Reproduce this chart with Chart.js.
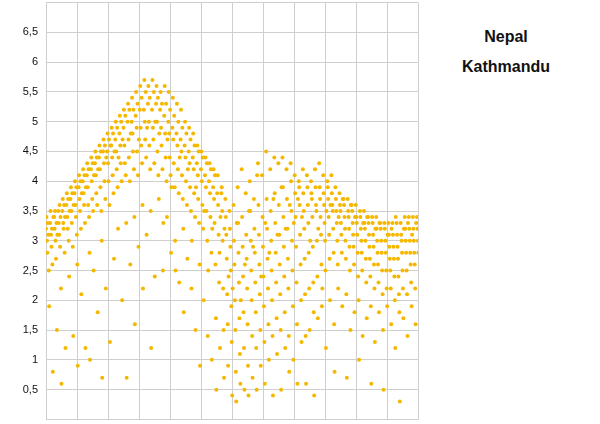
<!DOCTYPE html>
<html><head><meta charset="utf-8">
<script src="https://cdn.jsdelivr.net/npm/chart.js@4"></script>
<style>
body{margin:0;background:#fff;width:600px;height:424px;position:relative;overflow:hidden;font-family:"Liberation Sans",Arial,sans-serif}
#w{position:absolute;left:0;top:-12px;width:422px;height:446px}
.t{position:absolute;font-weight:bold;font-size:16px;color:#111;text-align:center;width:120px;left:446px}
</style></head><body>
<div id="w"><canvas id="c"></canvas></div>
<div class="t" style="top:28px">Nepal</div>
<div class="t" style="top:58px">Kathmandu</div>
<script>
const days=[0,4,8,12,16,20,24,28,32,36,40,44,48,52,56,60,64,68,72,76,80,84,88,92,96,100,104,108,112,116,120,124,128,132,136,140,144,148,152,156,160,164,168,172,176,180,184,188,192,196,200,204,208,212,216,220,224,228,232,236,240,244,248,252,256,260,264,268,272,276,280,284,288,292,296,300,304,308,312,316,320,324,328,332,336,340,344,348,352,356,360,364];
const values=[
[3.2,3.4,3.0,2.8,3.3,3.1,2.5,1.9],[3.3,3.5,3.1,2.9,3.2,2.6,0.8,3.4],[3.4,3.2,3.5,3.0,2.7,3.3,1.5,3.1],[3.5,3.3,3.1,3.6,2.9,3.4,2.2,0.6],
[3.5,3.7,3.3,3.2,3.6,2.8,3.4,1.2],[3.6,3.8,3.4,3.2,3.7,3.0,2.4,3.5],[3.7,3.9,3.5,3.3,3.8,2.9,1.4,3.6],[3.8,4.0,3.6,3.4,3.9,3.1,2.6,0.9],
[3.9,4.1,3.7,3.5,4.0,3.2,2.1,3.8],[4.0,4.2,3.8,3.6,4.1,3.3,1.2,3.9],[4.1,4.3,3.9,3.6,4.2,3.4,2.8,1.0],[4.2,4.4,4.0,3.7,4.3,3.5,2.5,4.1],
[4.3,4.5,4.1,3.8,4.4,3.6,1.8,4.2],[4.4,4.6,4.2,3.9,4.5,3.5,3.0,0.7],[4.5,4.7,4.3,4.0,4.6,3.7,2.2,4.4],[4.5,4.8,4.3,4.0,4.7,3.6,1.3,4.6],
[4.6,4.9,4.4,4.1,4.8,3.8,2.7,4.5],[4.7,5.0,4.5,4.2,4.9,3.9,3.2,4.4],[4.8,5.1,4.6,4.3,5.0,4.0,2.0,4.7],[4.9,5.2,4.6,4.3,5.1,4.1,3.3,0.7],
[5.0,5.3,4.7,4.4,5.2,4.0,2.6,4.8],[5.0,5.4,4.8,4.5,5.2,4.2,3.4,1.6],[5.1,5.5,4.9,4.5,5.3,4.1,2.9,4.7],[5.2,5.6,4.9,4.6,5.4,4.3,3.6,2.2],
[5.2,5.7,5.0,4.7,5.5,4.4,3.1,4.9],[5.3,5.6,5.0,4.6,5.4,4.2,3.5,1.2],[5.2,5.7,4.9,4.7,5.5,4.3,2.4,5.0],[5.3,5.6,5.0,4.5,5.4,4.1,3.7,4.8],
[5.2,5.5,4.9,4.6,5.3,4.2,2.5,3.3],[5.1,5.6,4.8,4.4,5.3,4.0,3.4,4.7],[5.0,5.5,4.8,4.4,5.2,4.1,2.8,3.9],[4.9,5.4,4.7,4.3,5.1,3.9,3.0,2.5],
[4.8,5.3,4.6,4.2,5.0,3.8,2.3,4.4],[4.7,5.2,4.5,4.1,4.9,3.7,3.2,1.8],[4.6,5.0,4.4,4.0,4.8,3.6,2.7,4.2],[4.5,4.9,4.3,3.9,4.7,3.5,2.2,3.0],
[4.4,4.8,4.2,3.8,4.6,3.4,1.5,3.9],[4.3,4.6,4.1,3.7,4.5,3.3,2.6,0.9],[4.2,4.5,4.0,3.6,4.4,3.2,2.0,3.5],[4.1,4.4,3.9,3.5,4.3,3.0,1.4,2.5],
[4.0,4.3,3.8,3.4,4.2,2.8,1.0,3.2],[3.9,4.2,3.7,3.3,4.1,2.6,1.7,0.5],[3.8,4.1,3.6,3.1,2.3,2.8,1.2,3.4],[3.8,3.9,3.5,3.0,2.2,1.5,0.7,3.2],
[3.7,3.4,3.1,2.7,2.1,1.6,0.9,2.4],[3.5,3.2,2.9,2.5,1.9,1.3,0.4,2.2],[3.6,3.0,2.6,2.0,1.5,0.8,0.3,3.3],[3.9,3.3,2.8,2.3,1.7,1.1,0.6,2.0],
[4.2,3.4,2.9,2.4,1.8,1.2,0.5,2.6],[3.8,3.1,2.7,2.2,1.6,0.9,0.4,3.5],[4.0,3.5,3.0,2.5,2.0,1.4,0.7,2.9],[3.7,3.2,2.8,2.3,1.8,1.2,0.5,4.1],
[4.3,3.6,3.1,2.6,2.1,1.5,0.9,2.4],[4.1,3.4,2.9,2.4,1.9,1.3,0.6,3.3],[4.5,3.7,3.2,2.7,2.2,1.6,1.0,2.8],[4.2,3.5,3.0,2.5,2.0,1.4,0.4,3.7],
[4.4,3.8,3.3,2.8,2.3,1.7,1.1,3.1],[4.3,3.6,3.1,2.6,2.1,1.5,0.5,3.9],[4.4,3.9,3.4,2.9,2.4,1.8,1.2,3.2],[4.2,3.7,3.2,2.7,2.2,1.4,0.8,3.6],
[4.3,4.0,3.5,3.0,2.5,1.9,1.0,3.3],[4.1,3.8,3.4,2.9,2.3,1.6,0.6,3.7],[4.0,3.9,3.6,3.1,2.6,2.0,1.3,3.4],[4.2,3.8,3.5,3.2,2.7,2.1,1.4,0.6],
[4.1,3.9,3.6,3.3,2.8,2.2,1.5,3.0],[4.0,3.8,3.7,3.4,2.9,2.3,1.8,0.4],[4.2,3.9,3.6,3.5,3.0,2.4,1.7,3.2],[4.3,3.9,3.7,3.4,3.1,2.6,1.9,2.2],
[4.1,3.8,3.6,3.3,3.0,2.5,1.2,3.5],[4.0,3.9,3.7,3.4,3.1,2.7,2.0,3.6],[4.1,3.8,3.6,3.5,3.2,2.8,1.6,0.8],[3.9,3.7,3.5,3.3,3.0,2.6,2.2,3.4],
[3.8,3.6,3.5,3.3,3.1,2.8,1.9,3.7],[3.7,3.6,3.4,3.2,3.0,2.7,2.1,0.7],[3.7,3.5,3.4,3.2,2.9,2.5,1.5,3.6],[3.6,3.5,3.3,3.1,2.9,2.6,1.8,3.4],
[3.6,3.4,3.3,3.1,2.8,2.4,2.0,1.0],[3.5,3.4,3.2,3.0,2.8,2.5,1.4,3.3],[3.5,3.3,3.2,3.0,2.7,2.3,1.7,3.4],[3.4,3.3,3.1,2.9,2.7,2.4,1.9,0.6],
[3.4,3.3,3.1,2.9,2.6,2.2,1.3,3.2],[3.4,3.2,3.0,2.8,2.6,2.3,1.8,3.3],[3.3,3.2,3.0,2.8,2.5,2.1,1.5,0.5],[3.3,3.2,3.0,2.8,2.5,2.2,1.9,3.1],
[3.3,3.1,2.9,2.7,2.5,2.2,1.6,3.2],[3.3,3.1,2.9,2.7,2.4,2.0,1.2,3.4],[3.3,3.1,2.9,2.7,2.4,2.1,1.8,0.3],[3.3,3.1,3.0,2.8,2.5,2.2,1.7,3.2],
[3.4,3.2,3.0,2.8,2.5,2.1,1.4,3.3],[3.4,3.2,3.0,2.8,2.6,2.3,1.9,3.1],[3.4,3.2,3.0,2.8,2.6,2.2,1.6,3.3],[3.4,3.2,3.0,2.8,2.5,2.3,2.7,3.1]];
const yTicks=[0.5,1,1.5,2,2.5,3,3.5,4,4.5,5,5.5,6,6.5];
const pts=[];
days.forEach((d,i)=>values[i].forEach((v,j)=>pts.push({x:d+j*0.45,y:v})));
new Chart(document.getElementById('c'),{type:'scatter',
data:{datasets:[{data:pts,backgroundColor:'#f5b800',borderWidth:0,pointRadius:2}]},
options:{responsive:true,maintainAspectRatio:false,animation:false,
layout:{padding:{top:0,bottom:0,right:1}},
plugins:{legend:{display:false},tooltip:{enabled:false}},
scales:{
x:{min:0,max:365,afterBuildTicks:s=>{s.ticks=[];for(let i=0;i<=12;i++)s.ticks.push({value:i*365/12});},
 ticks:{display:false},grid:{color:'#cfcfcf',drawTicks:false},border:{color:'#cfcfcf'}},
y:{min:0,max:7,afterBuildTicks:s=>{s.ticks=[0].concat(yTicks,[7]).map(v=>({value:v}));},
 afterFit:s=>{s.width=46;},
 ticks:{color:'#111',font:{size:11,family:'Liberation Sans'},padding:8,
  callback:v=>yTicks.includes(v)?String(v).replace('.',','):''},
 grid:{color:'#cfcfcf',drawTicks:false},border:{color:'#cfcfcf'}}}}});
</script></body></html>
